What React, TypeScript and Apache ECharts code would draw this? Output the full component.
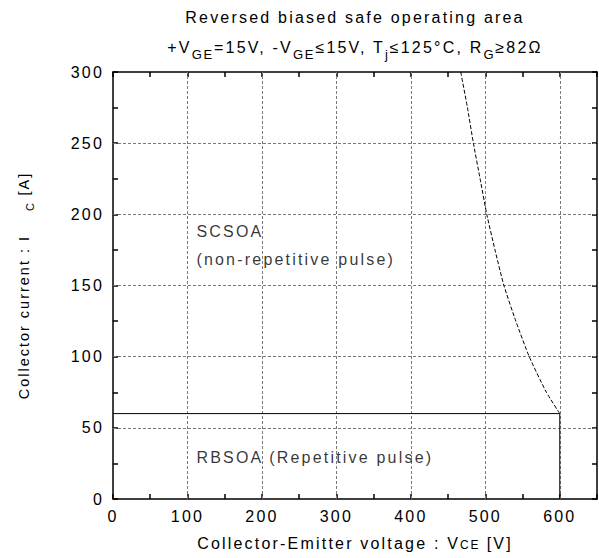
import React, { useEffect, useRef } from 'react';
import * as echarts from 'echarts';

const FONT = "'Liberation Sans', Arial, Helvetica, sans-serif";
const LETTER_SPACING_EM = 0.1375;

// RBSOA boundary (repetitive pulse)
const rbsoaVoltage = [0, 600, 600];
const rbsoaCurrent = [60, 60, 0];
// SCSOA boundary (non-repetitive pulse)
const scsoaVoltage = [467, 476, 484, 493, 502, 513, 525, 541, 559, 582, 600];
const scsoaCurrent = [300, 275, 250, 225, 200, 175, 150, 125, 100, 75, 60];
// dashed grid positions
const gridVoltages = [100, 200, 300, 400, 500, 600];
const gridCurrents = [50, 100, 150, 200, 250];
// tick labels
const xTickLabels = [0, 100, 200, 300, 400, 500, 600];
const yTickLabels = [0, 50, 100, 150, 200, 250, 300];
// annotations
const annotationTexts = ['SCSOA', '(non-repetitive pulse)', 'RBSOA (Repetitive pulse)'];
const annotationVoltages = [112, 112, 112];
const annotationCurrents = [188, 168, 29];

const titleLine1 = 'Reversed biased safe operating area';
const titleLine2 = '+V{s|GE}=15V, -V{s|GE}≤15V, T{s|j}≤125°C, R{s|G}≥82Ω';
const xAxisName = 'Collector-Emitter voltage : V{sc|CE} [V]';
const yAxisName = 'Collector current : I    {s|C} [A]';

let measureCtx: CanvasRenderingContext2D | null = null;
const setPlatform = (echarts as any).setPlatformAPI;
if (typeof setPlatform === 'function') {
  setPlatform({
    measureText(text: string, font?: string) {
      if (!measureCtx) measureCtx = document.createElement('canvas').getContext('2d');
      const f = font || '12px sans-serif';
      measureCtx!.font = f;
      const m = /(\d+(?:\.\d+)?)px/.exec(f);
      const size = m ? parseFloat(m[1]) : 12;
      return { width: measureCtx!.measureText(text).width + LETTER_SPACING_EM * size * text.length };
    },
  });
}

const ySubStyle = {
  fontSize: 11,
  fontFamily: FONT,
  color: '#000',
  height: 11,
  lineHeight: 11,
  verticalAlign: 'bottom',
};

const graphicSubStyle = {
  fontSize: 13,
  fontFamily: FONT,
  fill: '#000',
  color: '#000',
  stroke: 'none',
  height: 13,
  lineHeight: 13,
  verticalAlign: 'bottom',
};

function buildOption(): any {
  const axisLine = { onZero: false, lineStyle: { color: '#000', width: 1.5 } };
  const axisTick = { inside: true, length: 5, lineStyle: { color: '#000', width: 1.5 } };
  return {
    animation: false,
    backgroundColor: '#fff',
    textStyle: { fontFamily: FONT, color: '#000' },
    grid: { left: 113, right: 2, top: 72, bottom: 59, outerBoundsMode: 'none', containLabel: false },
    graphic: [
      {
        type: 'text',
        x: 355,
        y: 17,
        style: {
          text: titleLine1,
          fontSize: 16,
          fontFamily: FONT,
          fill: '#000',
          align: 'center',
          verticalAlign: 'middle',
        },
      },
      {
        type: 'text',
        x: 355,
        y: 47,
        style: {
          text: titleLine2,
          fontSize: 16,
          fontFamily: FONT,
          fill: '#000',
          align: 'center',
          verticalAlign: 'middle',
          lineHeight: 27,
          rich: { s: graphicSubStyle },
        },
      },
    ],
    xAxis: [
      {
        type: 'value',
        position: 'bottom',
        min: 0,
        max: 650,
        interval: 50,
        axisLine,
        axisTick,
        splitLine: { show: false },
        axisLabel: {
          color: '#000',
          fontSize: 16,
          fontFamily: FONT,
          margin: 8,
          formatter: (v: number) => (xTickLabels.indexOf(v) >= 0 ? String(v) : ''),
        },
        name: xAxisName,
        nameLocation: 'middle',
        nameGap: 35,
        nameTextStyle: {
          color: '#000',
          fontSize: 16,
          fontFamily: FONT,
          lineHeight: 18,
          rich: {
            sc: {
              fontSize: 12,
              fontFamily: FONT,
              color: '#000',
              height: 14,
              lineHeight: 14,
              verticalAlign: 'bottom',
            },
          },
        },
      },
      {
        type: 'value',
        position: 'top',
        min: 0,
        max: 650,
        interval: 50,
        axisLine,
        axisTick,
        splitLine: { show: false },
        axisLabel: { show: false },
      },
    ],
    yAxis: [
      {
        type: 'value',
        position: 'left',
        min: 0,
        max: 300,
        interval: 25,
        axisLine,
        axisTick,
        splitLine: { show: false },
        axisLabel: {
          color: '#000',
          fontSize: 16,
          fontFamily: FONT,
          margin: 9,
          formatter: (v: number) => (yTickLabels.indexOf(v) >= 0 ? String(v) : ''),
        },
        name: yAxisName,
        nameLocation: 'middle',
        nameGap: 78,
        nameTextStyle: {
          color: '#000',
          fontSize: 14.5,
          fontFamily: FONT,
          lineHeight: 23,
          rich: { s: ySubStyle },
        },
      },
      {
        type: 'value',
        position: 'right',
        min: 0,
        max: 300,
        interval: 25,
        axisLine,
        axisTick,
        splitLine: { show: false },
        axisLabel: { show: false },
      },
    ],
    series: [
      {
        type: 'line',
        name: 'grid',
        xAxisIndex: 0,
        yAxisIndex: 0,
        data: [[0, 0]],
        showSymbol: false,
        symbol: 'none',
        lineStyle: { width: 0 },
        silent: true,
        z: 1,
        markLine: {
          z: 1,
          silent: true,
          symbol: 'none',
          label: { show: false },
          lineStyle: { type: [3, 2], color: '#7a7a7a', width: 1 },
          data: [
            ...gridVoltages.map((v) => ({ xAxis: v })),
            ...gridCurrents.map((v) => ({ yAxis: v })),
          ],
        },
      },
      {
        type: 'line',
        name: 'RBSOA',
        xAxisIndex: 0,
        yAxisIndex: 0,
        data: rbsoaVoltage.map((v, i) => [v, rbsoaCurrent[i]]),
        showSymbol: false,
        symbol: 'none',
        lineStyle: { color: '#000', width: 1 },
        silent: true,
        z: 3,
      },
      {
        type: 'line',
        name: 'SCSOA',
        xAxisIndex: 0,
        yAxisIndex: 0,
        data: scsoaVoltage.map((v, i) => [v, scsoaCurrent[i]]),
        showSymbol: false,
        symbol: 'none',
        smooth: 0.2,
        lineStyle: { color: '#000', width: 1, type: [4, 2] },
        silent: true,
        z: 3,
      },
      {
        type: 'scatter',
        name: 'labels',
        xAxisIndex: 0,
        yAxisIndex: 0,
        data: annotationVoltages.map((v, i) => [v, annotationCurrents[i], annotationTexts[i]]),
        symbolSize: 0,
        itemStyle: { color: 'rgba(0,0,0,0)' },
        silent: true,
        z: 4,
        label: {
          show: true,
          position: 'right',
          distance: 0,
          align: 'left',
          verticalAlign: 'middle',
          color: '#000',
          fontSize: 16,
          fontFamily: FONT,
          formatter: (p: any) => p.data[2],
        },
      },
    ],
  };
}

export default function App() {
  const ref = useRef<HTMLDivElement>(null);
  useEffect(() => {
    const chart = echarts.init(ref.current!, null, { renderer: 'svg' });
    chart.setOption(buildOption());
    return () => chart.dispose();
  }, []);
  return (
    <>
      <style>{`.soa-chart text { letter-spacing: ${LETTER_SPACING_EM}em; }`}</style>
      <div
        ref={ref}
        className="soa-chart"
        style={{ position: 'fixed', left: 0, top: 0, width: 599, height: 558, background: '#fff' }}
      />
    </>
  );
}
